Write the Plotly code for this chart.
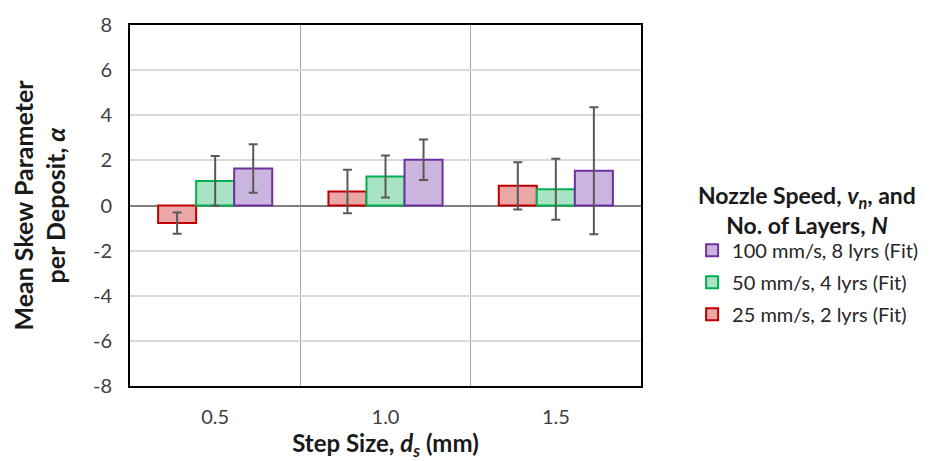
import plotly.graph_objects as go

categories = ["0.5", "1.0", "1.5"]
series_names = ["25 mm/s, 2 lyrs (Fit)", "50 mm/s, 4 lyrs (Fit)", "100 mm/s, 8 lyrs (Fit)"]
vals_25 = [-0.78, 0.62, 0.87]
err_25 = [0.47, 0.96, 1.05]
vals_50 = [1.09, 1.29, 0.72]
err_50 = [1.1, 0.93, 1.35]
vals_100 = [1.64, 2.03, 1.54]
err_100 = [1.08, 0.9, 2.81]
y_tickvals = [-8, -6, -4, -2, 0, 2, 4, 6, 8]
y_ticktext = ["-8", "-6", "-4", "-2", "0", "2", "4", "6", "8"]

fills = ["#EBA6A6", "#A8E3C4", "#CBB5DF"]
borders = ["#C00000", "#00B050", "#7030A0"]

FONT = "Lato"
xpos = list(range(len(categories)))

fig = go.Figure()
for i, (name, v, e, fc, bc) in enumerate(zip(series_names, [vals_25, vals_50, vals_100],
                              [err_25, err_50, err_100], fills, borders)):
    fig.add_trace(go.Bar(
        x=xpos, y=v, name=name, legendrank=3 - i, legendgroup="g%d" % i,
        marker=dict(color=fc, line=dict(color=bc, width=2)),
        error_y=dict(type="data", array=e, visible=True, color="#595959",
                     thickness=2, width=4.5),
    ))

fig.update_layout(
    width=936, height=461,
    margin=dict(l=130, r=291, t=19, b=74),
    paper_bgcolor="white", plot_bgcolor="white",
    barmode="group", bargap=0.33, bargroupgap=0,
    font=dict(family=FONT, color="#404040"),
    showlegend=True,
    legend=dict(x=1.1, y=0.43, xanchor="left", yanchor="top",
                traceorder="grouped", font=dict(size=20, color="#262626", family=FONT),
                itemwidth=30, tracegroupgap=3),
)
fig.update_xaxes(
    range=[-0.5, 2.5], tickmode="array", tickvals=xpos, ticktext=categories,
    showgrid=False, showline=True, linecolor="black", linewidth=2, mirror=True,
    ticks="", tickfont=dict(size=20, color="#404040", family=FONT),
    ticklabelstandoff=12,
    minor=dict(tickvals=[0.5, 1.5], showgrid=True, gridcolor="#A6A6A6", gridwidth=1.2, ticks=""),
    title=dict(text="<b>Step Size, <i>d<sub>s</sub></i> (mm)</b>", font=dict(size=24, color="#1a1a1a", family=FONT), standoff=4),
)
fig.update_yaxes(
    range=[-8, 8], tickmode="array", tickvals=y_tickvals, ticktext=y_ticktext,
    showgrid=True, gridcolor="#D9D9D9", gridwidth=1.5,
    zeroline=True, zerolinecolor="#808080", zerolinewidth=2,
    showline=True, linecolor="black", linewidth=2, mirror=True,
    ticks="", tickfont=dict(size=20, color="#404040", family=FONT),
    ticklabelstandoff=12,
    title=dict(text="<b>Mean Skew Parameter<br>per Deposit, <i>α</i></b>", font=dict(size=25, color="#1a1a1a", family=FONT), standoff=20),
)
fig.add_annotation(
    xref="paper", yref="paper", x=1.324, y=0.487, xanchor="center", yanchor="middle",
    text="<b>Nozzle Speed, <i>v<sub>n</sub></i>, and<br>No. of Layers, <i>N</i></b>",
    showarrow=False, align="center", font=dict(size=23, color="#1a1a1a", family=FONT),
)
fig.write_html("out.html")
